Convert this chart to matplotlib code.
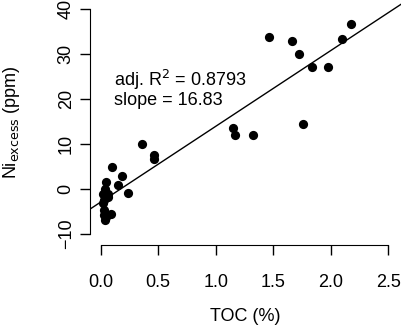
import matplotlib.pyplot as plt

plt.rcParams['font.family'] = ['Liberation Sans', 'DejaVu Sans']

toc = [1.466, 1.664, 1.727, 2.177, 2.098, 1.837, 1.977, 1.762,
       1.150, 1.171, 1.327, 0.356, 0.466, 0.466, 0.101, 0.182,
       0.148, 0.235, 0.046, 0.040, 0.023, 0.066, 0.046, 0.023,
       0.029, 0.033, 0.087, 0.037, 0.044, 0.030, 0.060]
ni_excess = [33.8, 32.8, 30.1, 36.7, 33.3, 27.2, 27.2, 14.4,
             13.6, 12.1, 12.1, 10.0, 7.5, 6.7, 5.0, 2.8,
             1.0, -0.8, 1.5, 0.0, -1.2, -1.8, -0.8, -3.2,
             -4.6, -5.8, -5.5, -6.9, -6.2, -2.5, -1.0]

intercept = -2.9
slope = 16.83
r2_text = 'adj. R$^2$ = 0.8793'
slope_text = 'slope = 16.83'

fig = plt.figure(figsize=(4.01, 3.33), dpi=100)
ax = fig.add_axes([90 / 401, 88 / 333, 311 / 401, 245 / 333])

ax.scatter(toc, ni_excess, s=44, color='black', zorder=3, linewidths=0)
ax.axline((0, intercept), slope=slope, color='black', lw=1)

ax.set_xlim(-0.093, 2.611)
ax.set_ylim(-12.44, 42.0)

for side in ['top', 'right']:
    ax.spines[side].set_visible(False)
ax.spines['left'].set_bounds(-10, 40)
ax.spines['bottom'].set_bounds(0, 2.5)

ax.set_xticks([0, 0.5, 1.0, 1.5, 2.0, 2.5])
ax.set_xticklabels(['0.0', '0.5', '1.0', '1.5', '2.0', '2.5'])
ax.set_yticks([-10, 0, 10, 20, 30, 40])
ax.tick_params(direction='out', length=7, width=1, labelsize=13, pad=4)
ax.tick_params(axis='x', pad=14)
for lab in ax.get_yticklabels():
    lab.set_rotation(90)
    lab.set_va('center')

ax.set_xlabel('TOC (%)', fontsize=13, labelpad=12)
ax.set_ylabel('Ni$_{\\mathrm{excess}}$ (ppm)', fontsize=13, labelpad=26)

ax.text(0.116, 22.9, r2_text, fontsize=13)
ax.text(0.116, 18.7, slope_text, fontsize=13)

fig.savefig('out.png', dpi=100)
